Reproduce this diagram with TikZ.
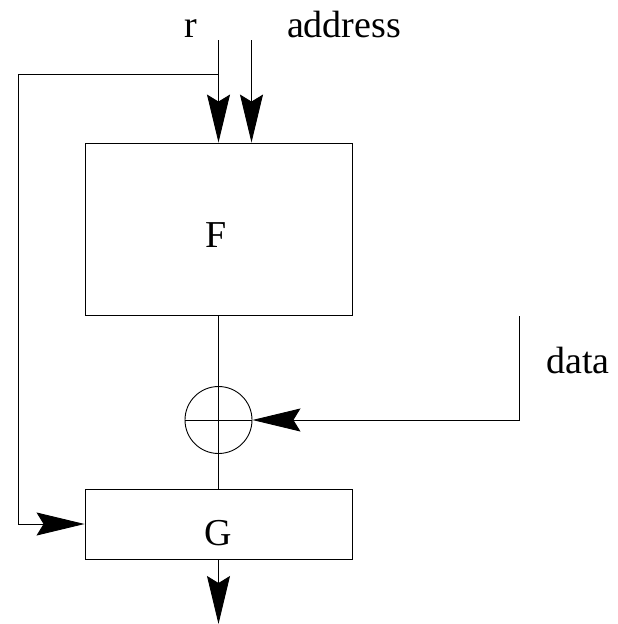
\documentclass[tikz,border=0pt]{standalone}
\usepackage{fontspec}
\setmainfont{Liberation Serif}
\usetikzlibrary{arrows.meta}
\begin{document}
\begin{tikzpicture}[x=1pt,y=-1pt,
  line width=0.9pt,
  arr/.style={-{Stealth[length=48pt,width=23pt,inset=7pt]}},
  blk/.style={draw,rectangle,inner sep=0pt},
  lbl/.style={font=\fontsize{38}{42}\selectfont,inner sep=0pt,anchor=base}]
\useasboundingbox (0,0) rectangle (618,624);
\node[blk,minimum width=267pt,minimum height=172pt] (F) at (218.5,229) {};
\node[blk,minimum width=267pt,minimum height=70pt] (G) at (218.5,524) {};
\node[draw,circle,minimum size=67pt,inner sep=0pt] (X) at (218.5,420) {};
\node[lbl] (Ft) at (216,247) {F};
\node[lbl] (Gt) at (218.5,545) {G};
\node[lbl] (rt) at (191,37) {r};
\node[lbl] (at) at (344,37) {address};
\node[lbl] (dt) at (578,373) {data};
\coordinate (rtop) at (218.5,40);
\coordinate (atop) at (251.5,40);
\coordinate (br) at (218.5,74);
\coordinate (lc) at (18,74);
\coordinate (dtop) at (519,316);
\coordinate (out) at (218.5,624);
\draw[arr] (rtop) -- (rtop |- F.north);
\draw[arr] (atop) -- (atop |- F.north);
\draw[arr] (br) -- (lc) |- (G.west);
\draw (F.south) -- (G.north);
\draw (X.west) -- (X.east);
\draw[arr] (dtop) |- (X.east);
\draw[arr] (G.south) -- (out);
\end{tikzpicture}
\end{document}
